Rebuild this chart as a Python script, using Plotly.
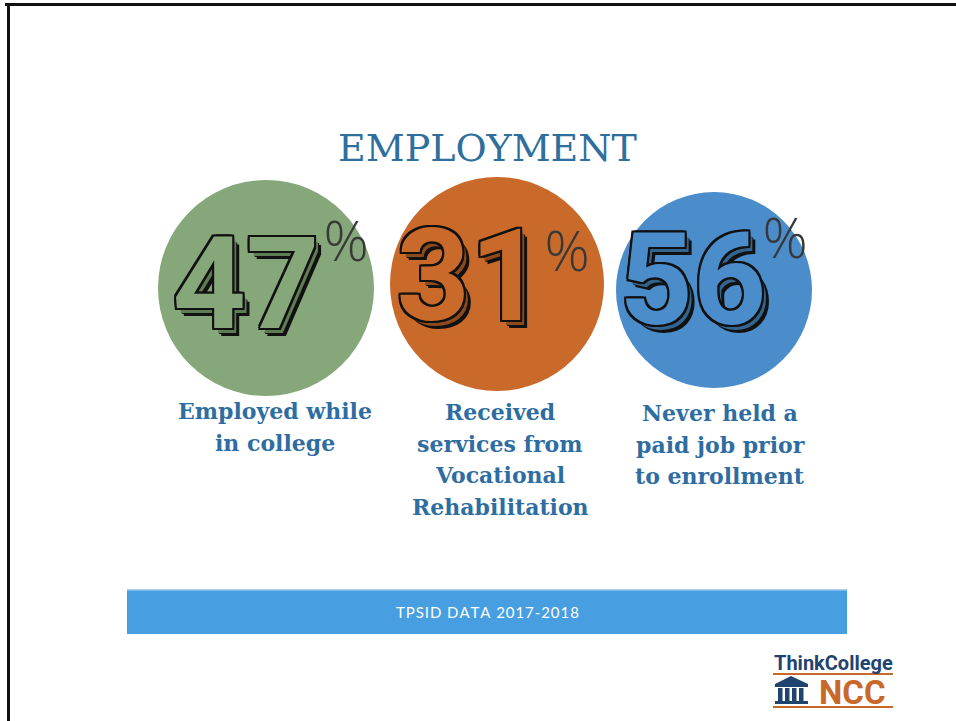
import plotly.graph_objects as go

# ---- data ----
values = [47, 31, 56]
labels = [
    "Employed while<br>in college",
    "Received<br>services from<br>Vocational<br>Rehabilitation",
    "Never held a<br>paid job prior<br>to enrollment",
]
title_text = "EMPLOYMENT"
banner_text = "TPSID DATA 2017-2018"

# ---- layout constants (pixel space) ----
W, H = 956, 721
circle_x = [266, 497, 714]
circle_y = [288, 284, 290]
circle_d = [216, 214, 196]
circle_colors = ["#86a779", "#c96a2b", "#4b8dca"]
depth_colors = ["#5f7d55", "#8f4a1c", "#33658f"]
num_x = [246, 470, 693]
num_y = [296, 288, 292]
pct_x = [346, 567, 785]
pct_y = [247, 257, 244]
label_x = [275, 500, 720]
label_y0 = [411, 412, 413]
LINE_GAP = 31.7
BLUE_TXT = "#2e6da1"

fig = go.Figure()

# circles
fig.add_trace(go.Scatter(
    x=circle_x, y=circle_y, mode="markers",
    marker=dict(size=circle_d, color=circle_colors, opacity=1, line=dict(width=0)),
    hoverinfo="skip", showlegend=False,
))

# numbers (outlined, hollow look with a 3D depth)
for i, v in enumerate(values):
    d = depth_colors[i]
    outline = ("2px 2px 0 #111, -2px -2px 0 #111, 2px -2px 0 #111, -2px 2px 0 #111, "
               "2px 0 0 #111, -2px 0 0 #111, 0 2px 0 #111, 0 -2px 0 #111, "
               f"4px 5px 0 {d}, 5px 6px 0 #111, 7px 8px 0 #111")
    fig.add_trace(go.Scatter(
        x=[num_x[i]], y=[num_y[i]], mode="text", text=[str(v)],
        textposition="middle center",
        textfont=dict(family="Roboto", size=128, weight=700,
                      color=circle_colors[i], shadow=outline),
        hoverinfo="skip", showlegend=False,
    ))
    fig.add_trace(go.Scatter(
        x=[pct_x[i]], y=[pct_y[i]], mode="text", text=["%"],
        textposition="middle center",
        textfont=dict(family="Open Sans", size=56, weight=300, color="#383838"),
        hoverinfo="skip", showlegend=False,
    ))

# labels, one text line at a time for the reference's line spacing
for i, lab in enumerate(labels):
    for j, line in enumerate(lab.split("<br>")):
        fig.add_annotation(
            x=label_x[i], y=label_y0[i] + j * LINE_GAP, text="<b>" + line + "</b>",
            showarrow=False, xanchor="center", yanchor="middle", align="center",
            font=dict(family="DejaVu Serif", size=22, color=BLUE_TXT),
        )

# title
fig.add_annotation(
    x=487, y=148, text=title_text, showarrow=False,
    xanchor="center", yanchor="middle",
    font=dict(family="DejaVu Serif", size=38, color="#2f6f9e"),
)

shapes = []
# border lines
shapes.append(dict(type="rect", x0=5, x1=W, y0=3, y1=6, fillcolor="#111", line_width=0))
shapes.append(dict(type="rect", x0=7, x1=10, y0=3, y1=H, fillcolor="#111", line_width=0))
# banner
shapes.append(dict(type="rect", x0=127, x1=847, y0=589, y1=634, fillcolor="#479ee0", line_width=0))
shapes.append(dict(type="rect", x0=127, x1=847, y0=589, y1=590.5, fillcolor="#a9d1f0", line_width=0))
# logo lines
shapes.append(dict(type="rect", x0=773, x1=893, y0=673, y1=675, fillcolor="#c8692a", line_width=0))
shapes.append(dict(type="rect", x0=773, x1=893, y0=706, y1=708, fillcolor="#c8692a", line_width=0))
# building icon
NAVY = "#1f4470"
shapes.append(dict(type="path", path="M 775 684 L 791 676 L 808 684 Z", fillcolor=NAVY, line_width=0))
shapes.append(dict(type="rect", x0=775, x1=808, y0=684, y1=687, fillcolor=NAVY, line_width=0))
for cx in [777, 784, 791, 798]:
    shapes.append(dict(type="rect", x0=cx + 1, x1=cx + 5.5, y0=688, y1=701, fillcolor=NAVY, line_width=0))
shapes.append(dict(type="rect", x0=775, x1=808, y0=701, y1=704, fillcolor=NAVY, line_width=0))
for s in shapes:
    s["xref"] = "x"
    s["yref"] = "y"
    s["layer"] = "below"
fig.update_layout(shapes=shapes)

# banner text
fig.add_annotation(
    x=487, y=612, text="\u200a".join(banner_text), showarrow=False,
    xanchor="center", yanchor="middle",
    font=dict(family="Lato", size=15, color="#ffffff"),
)
# logo text
fig.add_annotation(
    x=833, y=663, text="<b>ThinkCollege</b>", showarrow=False,
    xanchor="center", yanchor="middle",
    font=dict(family="Roboto", size=20, color=NAVY),
)
fig.add_annotation(
    x=852, y=692, text="<b>NCC</b>", showarrow=False,
    xanchor="center", yanchor="middle",
    font=dict(family="Roboto", size=33, color="#c8692a"),
)

fig.update_layout(
    width=W, height=H,
    margin=dict(l=0, r=0, t=0, b=0),
    paper_bgcolor="white", plot_bgcolor="white",
    xaxis=dict(range=[0, W], visible=False, fixedrange=True),
    yaxis=dict(range=[H, 0], visible=False, fixedrange=True),
    showlegend=False,
)

fig.write_html("out.html", config={"displayModeBar": False},
               post_script="document.body.style.margin='0';document.body.style.overflow='hidden';")
